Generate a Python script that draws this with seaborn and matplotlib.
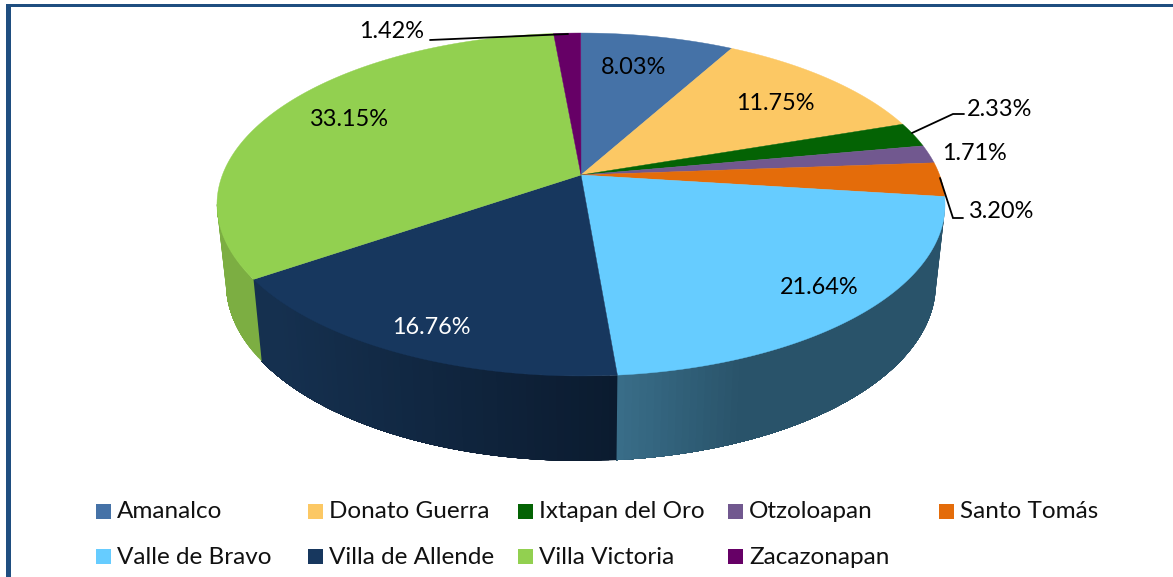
import numpy as np
import matplotlib
matplotlib.use("Agg")
import matplotlib.pyplot as plt
from matplotlib.colors import to_rgb
from matplotlib.patches import Rectangle
import seaborn as sns

municipios = ["Amanalco", "Donato Guerra", "Ixtapan del Oro", "Otzoloapan", "Santo Tomás",
              "Valle de Bravo", "Villa de Allende", "Villa Victoria", "Zacazonapan"]
porcentajes = [8.03, 11.75, 2.33, 1.71, 3.20, 21.64, 16.76, 33.15, 1.42]
colores = ["#4572A7", "#FCC864", "#046304", "#71588F", "#E46C0A",
           "#66CCFF", "#17375E", "#92D050", "#660066"]
etiquetas = [f"{p:.2f}%" for p in porcentajes]

sns.set_theme(style="white")
plt.rcParams["font.family"] = ["Lato", "DejaVu Sans"]
paleta = sns.color_palette(colores)

W, H = 1173, 577
fig = plt.figure(figsize=(W / 100, H / 100), dpi=100, facecolor="white")
ax = fig.add_axes([0, 0, 1, 1])
ax.set_xlim(0, W)
ax.set_ylim(H, 0)
ax.axis("off")

# projection of the disc
XC, YC, A, B, K = 581.0, 175.0, 358.6, 166.4, 0.172


def top(theta):
    u, v = np.sin(theta), np.cos(theta)
    d = 1 + K * v
    return XC + A * u / d, YC - B * v / d


def bottom(theta):
    x, y = top(theta)
    v = np.cos(theta)
    return XC + 0.975 * (x - XC), y + 78 + 7 * np.clip(-v, 0, 1)


limites = np.deg2rad(np.cumsum([0] + porcentajes) * 3.6)
vis_ini, vis_fin = np.arccos(-K), 2 * np.pi - np.arccos(-K)


def mezcla(c1, c2, t):
    c1, c2 = np.array(to_rgb(c1)), np.array(to_rgb(c2))
    return tuple(c1 + (c2 - c1) * t)


def color_lateral(i, x):
    if i == 5:
        return mezcla("#3A6E89", "#29536A", np.clip((x - 617) / 125, 0, 1))
    if i == 6:
        return mezcla("#0B1B2F", "#15304F", np.clip((617 - x) / 340, 0, 1))
    return mezcla("#7CAE42", "#7CAE42", 0)


# side wall: each strip runs on to the end of its wedge, the next one paints over it
for i in range(len(porcentajes)):
    a0, a1 = max(limites[i], vis_ini), min(limites[i + 1], vis_fin)
    if a1 <= a0:
        continue
    n = max(2, int((a1 - a0) / np.deg2rad(1.0)))
    bordes = np.linspace(a0, a1, n + 1)
    for t0 in bordes[:-1]:
        ts = np.linspace(t0, a1, 60)
        xt, yt = top(ts)
        xb, yb = bottom(ts[::-1])
        c = color_lateral(i, top(np.array([t0 + (a1 - a0) / (2 * n)]))[0][0])
        ax.fill(np.r_[xt, xb], np.r_[yt, yb], facecolor=c, edgecolor="none", lw=0, zorder=2)

# top face
for i, color in enumerate(paleta):
    ts = np.linspace(limites[i], limites[i + 1], 120)
    x, y = top(ts)
    ax.fill(np.r_[XC, x], np.r_[YC, y], color=color, lw=0.3, zorder=3)

# labels
label_xy = [(634, 68), (775, 103), (1000, 109), (975, 153), (1001, 212),
            (819, 288), (431, 327), (349, 120), (392, 32)]
label_color = ["black"] * 6 + ["white"] + ["black"] * 2
for txt, (x, y), c in zip(etiquetas, label_xy, label_color):
    ax.text(x, y, txt, ha="center", va="center", fontsize=16.9, color=c, zorder=5)

# leader lines
leaders = [[(912, 133), (953, 114), (964, 114)],
           [(940, 178), (953, 218), (963, 218)],
           [(430, 40), (568, 34)]]
for pts in leaders:
    px, py = zip(*pts)
    ax.plot(px, py, color="black", lw=1.3, zorder=6, solid_joinstyle="miter")

# legend
leg_x = [96, 308, 518, 728, 939, 96, 308, 518, 728]
leg_y = [504] * 5 + [549] * 4
for nombre, color, x, y in zip(municipios, paleta, leg_x, leg_y):
    ax.add_patch(Rectangle((x, y), 15, 15, facecolor=color, edgecolor="none", zorder=5))
    ax.text(x + 21, y + 8, nombre, ha="left", va="center", fontsize=17.5, color="#111111", zorder=5)

# frame
marco = "#1F4E80"
ax.add_patch(Rectangle((6, 4), W - 6, 3, facecolor=marco, edgecolor="none", zorder=7))
ax.add_patch(Rectangle((6, 4), 5, H - 4, facecolor=marco, edgecolor="none", zorder=7))

fig.savefig("out.png", dpi=100)
